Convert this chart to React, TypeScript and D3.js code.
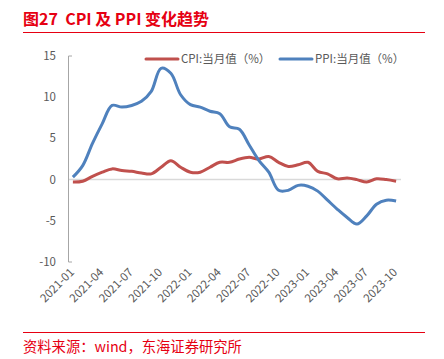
import * as d3 from "d3";
import { useEffect, useRef } from "react";

const months = [
  "2021-01", "2021-02", "2021-03", "2021-04", "2021-05", "2021-06", "2021-07", "2021-08", "2021-09", "2021-10", "2021-11", "2021-12",
  "2022-01", "2022-02", "2022-03", "2022-04", "2022-05", "2022-06", "2022-07", "2022-08", "2022-09", "2022-10", "2022-11", "2022-12",
  "2023-01", "2023-02", "2023-03", "2023-04", "2023-05", "2023-06", "2023-07", "2023-08", "2023-09", "2023-10",
];

const cpi = [
  -0.3, -0.2, 0.4, 0.9, 1.3, 1.1, 1.0, 0.8, 0.7, 1.5, 2.3, 1.5,
  0.9, 0.9, 1.5, 2.1, 2.1, 2.5, 2.7, 2.5, 2.8, 2.1, 1.6, 1.8,
  2.1, 1.0, 0.7, 0.1, 0.2, 0.0, -0.3, 0.1, 0.0, -0.2,
];

const ppi = [
  0.3, 1.7, 4.4, 6.8, 9.0, 8.8, 9.0, 9.5, 10.7, 13.5, 12.9, 10.3,
  9.1, 8.8, 8.3, 8.0, 6.4, 6.1, 4.2, 2.3, 0.9, -1.3, -1.3, -0.7,
  -0.8, -1.4, -2.5, -3.6, -4.6, -5.4, -4.4, -3.0, -2.5, -2.6,
];

const yTicks = [-10, -5, 0, 5, 10, 15];
const xTickLabels = months.filter((_, i) => i % 3 === 0);

const seriesNames = ["CPI:当月值（%）", "PPI:当月值（%）"];
const seriesColors = ["#C0504D", "#4F81BD"];

export default function App() {
  const svgRef = useRef<SVGSVGElement>(null);
  const width = 444;
  const height = 359;
  const font = "'Noto Sans CJK SC', 'Noto Sans', sans-serif";

  useEffect(() => {
    const svg = d3.select(svgRef.current);
    svg.selectAll("*").remove();

    const x = d3.scaleBand().domain(months).range([68, 401]);
    const y = d3.scaleLinear().domain([-10, 15]).range([262, 56]);
    const cx = (m: string) => (x(m) as number) + x.bandwidth() / 2;

    // title
    svg.append("text")
      .attr("x", 23).attr("y", 25)
      .attr("fill", "#E60012")
      .attr("font-size", 16).attr("font-weight", "bold")
      .attr("font-family", font)
      .attr("xml:space", "preserve")
      .style("white-space", "pre")
      .text("图27  CPI 及 PPI 变化趋势");
    svg.append("line")
      .attr("x1", 23).attr("x2", 425).attr("y1", 32.5).attr("y2", 32.5)
      .attr("stroke", "#E60012").attr("stroke-width", 1);

    // zero line
    svg.append("line")
      .attr("x1", 68).attr("x2", 401).attr("y1", y(0)).attr("y2", y(0))
      .attr("stroke", "#D9D9D9").attr("stroke-width", 1.5);

    // y axis
    svg.append("line")
      .attr("x1", 68.5).attr("x2", 68.5).attr("y1", y(15)).attr("y2", y(-10))
      .attr("stroke", "#A6A6A6").attr("stroke-width", 1);
    svg.selectAll(".ytick")
      .data([15, -10])
      .enter().append("line")
      .attr("x1", 68.5).attr("x2", 72).attr("y1", d => y(d)).attr("y2", d => y(d))
      .attr("stroke", "#A6A6A6");
    svg.selectAll(".ylab")
      .data(yTicks)
      .enter().append("text")
      .attr("x", 56).attr("y", d => y(d) + 4)
      .attr("text-anchor", "end")
      .attr("font-size", 11.5).attr("fill", "#595959")
      .attr("font-family", font)
      .text(d => d);

    // x labels
    svg.selectAll(".xlab")
      .data(xTickLabels)
      .enter().append("text")
      .attr("transform", d => `translate(${cx(d) + 2},${273}) rotate(-45)`)
      .attr("text-anchor", "end")
      .attr("font-size", 11.5).attr("fill", "#595959")
      .attr("font-family", font)
      .text(d => d);

    // lines
    const line = d3.line<number>()
      .x((_, i) => cx(months[i]))
      .y(d => y(d))
      .curve(d3.curveCatmullRom.alpha(0.5));
    [cpi, ppi].forEach((s, k) => {
      svg.append("path")
        .attr("d", line(s))
        .attr("fill", "none")
        .attr("stroke", seriesColors[k])
        .attr("stroke-width", 3)
        .attr("stroke-linejoin", "round");
    });

    // legend
    const legendX = [146, 280];
    seriesNames.forEach((name, k) => {
      svg.append("line")
        .attr("x1", legendX[k]).attr("x2", legendX[k] + 32)
        .attr("y1", 59).attr("y2", 59)
        .attr("stroke", seriesColors[k]).attr("stroke-width", 3)
        .attr("stroke-linecap", "round");
      svg.append("text")
        .attr("x", legendX[k] + 35).attr("y", 63)
        .attr("font-size", 11.5).attr("fill", "#595959")
        .attr("font-family", font)
        .text(name);
    });

    // source
    svg.append("line")
      .attr("x1", 23).attr("x2", 425).attr("y1", 332.5).attr("y2", 332.5)
      .attr("stroke", "#E60012").attr("stroke-width", 1);
    svg.append("text")
      .attr("x", 23).attr("y", 352)
      .attr("fill", "#E60012")
      .attr("font-size", 14.3)
      .attr("font-family", font)
      .text("资料来源：wind，东海证券研究所");
  }, []);

  return (
    <svg
      ref={svgRef}
      width={width}
      height={height}
      style={{ position: "absolute", left: 0, top: 0, background: "#fff" }}
    />
  );
}
